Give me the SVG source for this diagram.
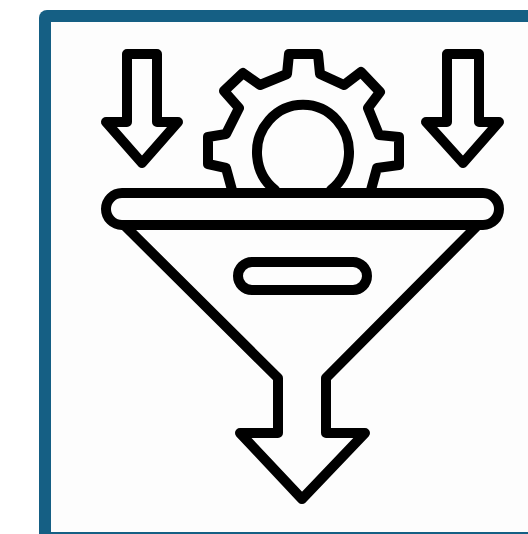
<svg xmlns="http://www.w3.org/2000/svg" width="528" height="534" viewBox="0 0 528 534">
<style>
.l{fill:none;stroke:#050505;stroke-width:10;stroke-linejoin:round;stroke-linecap:round}
</style>
<defs><filter id="b" x="-5%" y="-5%" width="110%" height="110%"><feGaussianBlur stdDeviation="0.7"/></filter></defs>
<rect width="528" height="534" fill="#fff"/>
<g id="frame">
<path d="M39 534V18a8 8 0 0 1 8-8H528V534Z" fill="#155f84"/>
<rect x="51" y="22" width="477" height="510" fill="#fdfdfd"/>
</g>
<g id="icon" filter="url(#b)">
<g id="left-arrow"><path class="l" d="M127 54H157V122H178L142 163L106 122H127Z"/></g>
<g id="right-arrow"><path class="l" d="M447 54H479V122H499L463 163L426 122H447Z"/></g>
<g id="gear">
<path class="l" d="M232 190L226 168L208 164V137L226 134L239 108L224 91L243 73L260 85L287 74L289 54H318L320 74L344 85L361 72L380 92L368 108L379 135L399 137V165L377 168L371 190"/>
<path class="l" d="M275 190A46 47.5 0 1 1 331 190"/>
</g>
<g id="funnel">
<rect class="l" x="106" y="193" width="393" height="32" rx="16"/>
<path class="l" d="M125 226L278 378V433H240L302 499L365 433H326V378L477 226"/>
</g>
<g id="slot"><rect class="l" x="238" y="262" width="129" height="28" rx="14"/></g>
</g>
</svg>
